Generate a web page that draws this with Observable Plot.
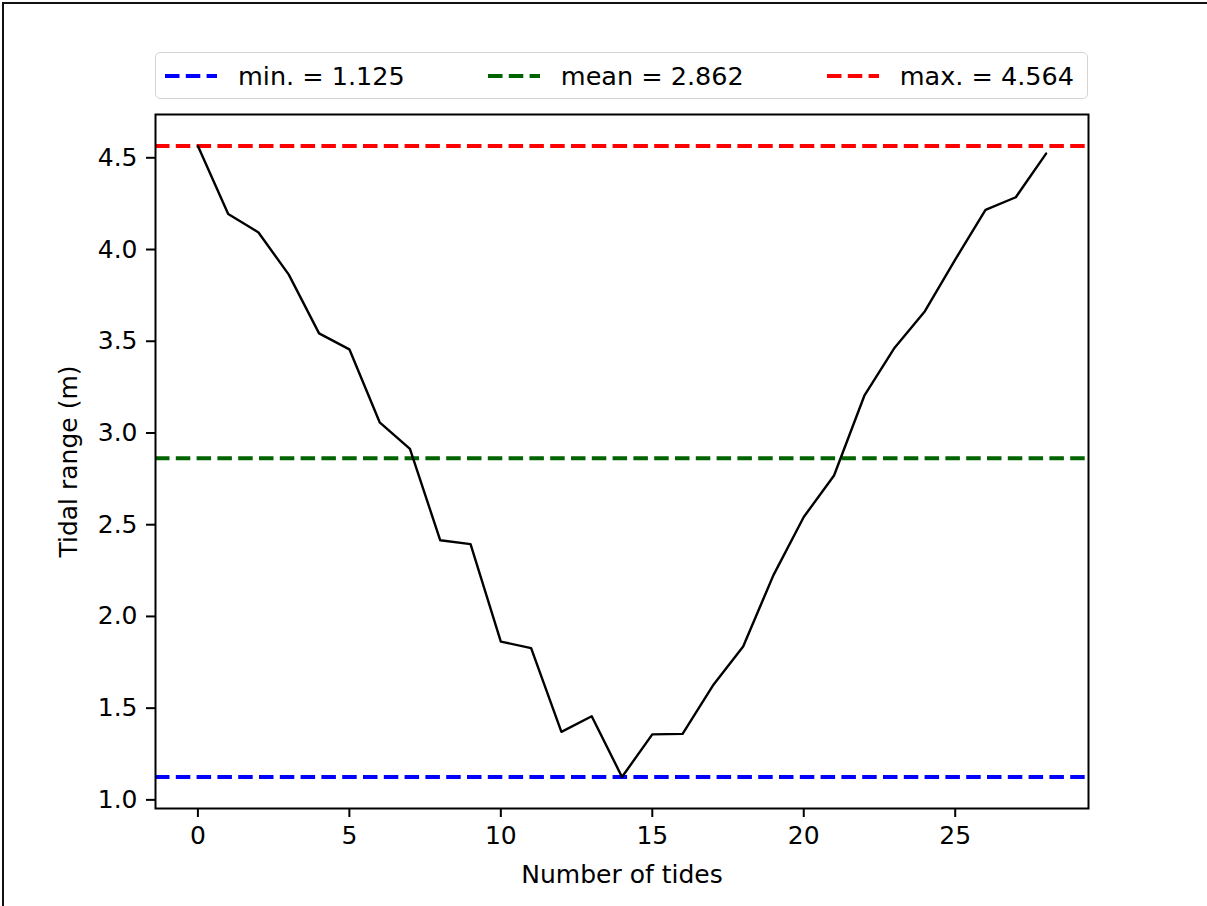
<!DOCTYPE html>
<html>
<head>
<meta charset="utf-8">
<script src="https://cdn.jsdelivr.net/npm/d3@7"></script>
<script src="https://cdn.jsdelivr.net/npm/@observablehq/plot@0.6"></script>
<style>
  html, body { margin: 0; padding: 0; background: #fff; overflow: hidden; }
  #page { position: relative; width: 1207px; height: 906px; overflow: hidden; background: #fff; font-family: "DejaVu Sans", sans-serif; }
  #borderTop { position: absolute; left: 2px; top: 2px; width: 1205px; height: 2px; background: #111; z-index: 5; }
  #borderLeft { position: absolute; left: 2px; top: 2px; width: 2px; height: 904px; background: #111; z-index: 5; }
  #legend { position: absolute; left: 155px; top: 52px; width: 933px; height: 47px; box-sizing: border-box;
            border: 1.5px solid #d4d4d4; border-radius: 5px; display: flex; align-items: center;
            justify-content: space-between; padding: 0 13px 0 9px; background: #fff; }
  .item { display: flex; align-items: center; font-size: 25.5px; color: #000; white-space: nowrap; }
  .item svg { display: block; margin-right: 21px; }
  #chart { position: absolute; left: 0; top: 100px; }
</style>
</head>
<body>
<div id="page">
  <div id="legend"></div>
  <div id="chart"></div>
  <div id="borderTop"></div>
  <div id="borderLeft"></div>
</div>
<script>
// ---- data ----
const tides = [0, 1, 2, 3, 4, 5, 6, 7, 8, 9, 10, 11, 12, 13, 14, 15, 16, 17, 18, 19, 20, 21, 22, 23, 24, 25, 26, 27, 28];
const tidalRange = [4.564, 4.194, 4.093, 3.863, 3.543, 3.456, 3.058, 2.913, 2.415, 2.394,
                    1.863, 1.827, 1.371, 1.456, 1.125, 1.357, 1.360, 1.623, 1.836, 2.225,
                    2.542, 2.768, 3.203, 3.465, 3.664, 3.945, 4.216, 4.285, 4.523];
const statNames = ["min.", "mean", "max."];
const statValues = [1.125, 2.862, 4.564];
const statColors = ["#0000ff", "#006400", "#ff0000"];
const xTicks = [0, 5, 10, 15, 20, 25];
const yTicks = [1.0, 1.5, 2.0, 2.5, 3.0, 3.5, 4.0, 4.5];
const xLabel = "Number of tides";
const yLabel = "Tidal range (m)";

// ---- tables ----
const series = tides.map((t, i) => ({tide: t, range: tidalRange[i]}));
const stats = statNames.map((n, i) => ({name: n, value: statValues[i], color: statColors[i]}));

// ---- legend (HTML above the SVG) ----
const legend = document.getElementById("legend");
for (const s of stats) {
  const item = document.createElement("div");
  item.className = "item";
  item.innerHTML = `<svg width="52" height="10"><line x1="0" x2="52" y1="5" y2="5" stroke="${s.color}" stroke-width="3.9" stroke-dasharray="14.5,6.3"/></svg><span>${s.name} = ${d3.format(".3f")(s.value)}</span>`;
  legend.appendChild(item);
}

// ---- chart ----
const chart = Plot.plot({
  width: 1207,
  height: 806,
  marginLeft: 155,
  marginRight: 119,
  marginTop: 14,
  marginBottom: 98,
  style: {fontFamily: "DejaVu Sans", fontSize: "25px", color: "#000", background: "transparent"},
  x: {domain: [-1.4, 29.4]},
  y: {domain: [0.953, 4.736]},
  marks: [
    Plot.ruleY(stats, {y: "value", stroke: "color", strokeWidth: 3.9, strokeDasharray: "14.5,6.3"}),
    Plot.line(series, {x: "tide", y: "range", stroke: "#000", strokeWidth: 2.4}),
    Plot.frame({stroke: "#000", strokeWidth: 2}),
    Plot.axisX(xTicks, {tickSize: 9, tickPadding: 9, strokeWidth: 2, label: xLabel, labelAnchor: "center", labelArrow: "none", labelOffset: 74}),
    Plot.axisY(yTicks, {tickSize: 9, tickPadding: 9, strokeWidth: 2, tickFormat: d3.format(".1f"), label: yLabel, labelAnchor: "center", labelArrow: "none", labelOffset: 96})
  ]
});
document.getElementById("chart").appendChild(chart);
</script>
</body>
</html>
